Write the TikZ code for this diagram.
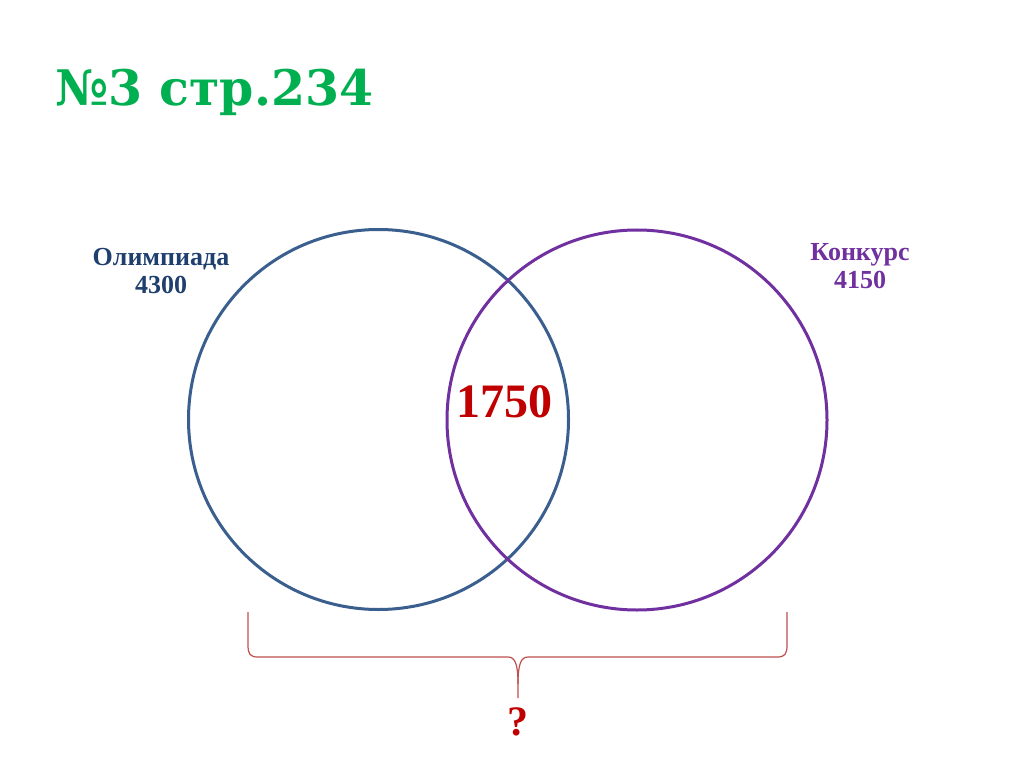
\documentclass[tikz,border=0pt]{standalone}
\usepackage{fontspec}
\setmainfont{Liberation Serif}
\newfontfamily\titlefont{DejaVu Serif}
\definecolor{titlegreen}{HTML}{00B050}
\definecolor{circblue}{HTML}{3A5F8F}
\definecolor{circpurple}{HTML}{7030A0}
\definecolor{lblblue}{HTML}{1F3F6E}
\definecolor{numred}{HTML}{C00000}
\definecolor{bracered}{HTML}{C0504D}
\begin{document}
\begin{tikzpicture}[x=1pt,y=-1pt,
  lbl/.style={inner sep=0pt,anchor=base,font=\bfseries\fontsize{26}{30}\selectfont},
  ring/.style={line width=3pt}]
\useasboundingbox[fill=white] (0,0) rectangle (1024,767);
% title
\node[anchor=base west,inner sep=0pt,text=titlegreen,font=\titlefont\bfseries\fontsize{49}{56}\selectfont] (title) at (55,106) {№3 стр.234};
% circles
\coordinate (cL) at (378.5,419.5);
\coordinate (cR) at (637,420);
\draw[ring,circblue] (cL) circle[radius=190];
\draw[ring,circpurple] (cR) circle[radius=190];
% labels
\node[lbl,text=lblblue] (olim) at (161,265) {Олимпиада};
\node[lbl,text=lblblue] (olimn) at (161,293) {4300};
\node[lbl,text=circpurple] (konk) at (860,260) {Конкурс};
\node[lbl,text=circpurple] (konkn) at (860,288) {4150};
\node[anchor=base,inner sep=0pt,text=numred,font=\bfseries\fontsize{48}{56}\selectfont] (both) at (504,417) {1750};
% brace
\coordinate (bl) at (248,612);
\coordinate (br) at (787,612);
\coordinate (bt) at (518,698);
\draw[bracered,line width=1.2pt]
  (bl) -- (248,645) .. controls (248,654) and (250,657) .. (258,657) -- (508,657)
  .. controls (515,657) and (518,664) .. (518,684) -- (bt);
\draw[bracered,line width=1.2pt]
  (br) -- (787,645) .. controls (787,654) and (785,657) .. (777,657) -- (528,657)
  .. controls (521,657) and (518,664) .. (518,684);
\node[anchor=base,inner sep=0pt,text=numred,font=\bfseries\fontsize{42}{48}\selectfont] (q) at (518,735) {?};
\end{tikzpicture}
\end{document}
